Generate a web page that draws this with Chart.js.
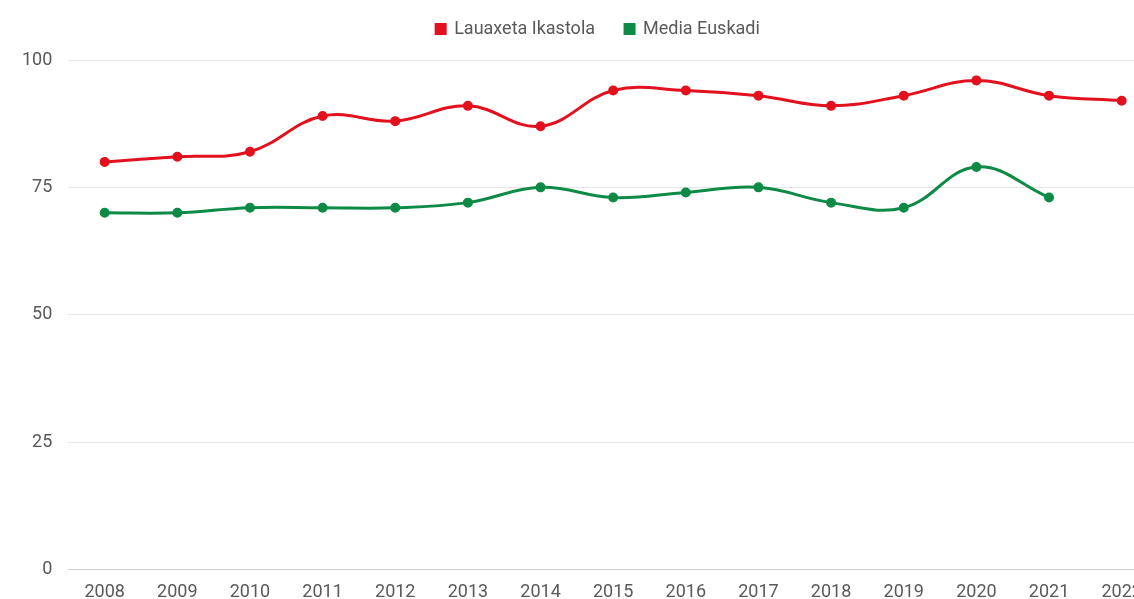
<!DOCTYPE html>
<html>
<head>
<meta charset="utf-8">
<script src="https://cdn.jsdelivr.net/npm/chart.js@4"></script>
<style>
  body { margin: 0; overflow: hidden; background: #fff; }
  #wrap { width: 1196px; height: 599px; }
</style>
</head>
<body>
<div id="wrap"><canvas id="rateChart" width="1196" height="599"></canvas></div>
<script>
// Years and yearly values for both series
const years = ['2008', '2009', '2010', '2011', '2012', '2013', '2014', '2015', '2016', '2017', '2018', '2019', '2020', '2021', '2022'];
const lauaxeta = [80, 81, 82, 89, 88, 91, 87, 94, 94, 93, 91, 93, 96, 93, 92];
const euskadi = [70, 70, 71, 71, 71, 72, 75, 73, 74, 75, 72, 71, 79, 73, null];
const yTicks = [0, 25, 50, 75, 100];

const RED = '#e3101e';
const GREEN = '#0d8a45';
const TEXT = '#595959';
const FONT = 'Roboto';

function series(label, data, color) {
    return {
        label: label,
        data: data,
        borderColor: color,
        backgroundColor: color,
        borderWidth: 3,
        pointRadius: 3.5,
        pointHoverRadius: 4,
        tension: 0.4,
        fill: false
    };
}

// Wide gaps between legend items, but keep the legend near the top
// and centred on the whole canvas
const legendSpacing = {
    id: 'legendSpacing',
    beforeLayout(chart) {
        const lg = chart.legend;
        if (lg && !lg._spaced) {
            const fit = lg.fit;
            lg.fit = function () {
                fit.call(this);
                this.height += 2;
            };
            lg._spaced = true;
        }
    },
    afterLayout(chart) {
        const lg = chart.legend;
        const shift = (chart.width - lg.left - lg.right) / 2;
        lg.left += shift;
        lg.right += shift;
        lg.top -= 10;
        lg.bottom -= 10;
    }
};

const ctx = document.getElementById('rateChart').getContext('2d');
new Chart(ctx, {
    type: 'line',
    data: {
        labels: years,
        datasets: [
            series('Lauaxeta Ikastola', lauaxeta, RED),
            series('Media Euskadi', euskadi, GREEN)
        ]
    },
    options: {
        responsive: false,
        animation: false,
        layout: { padding: { left: 6, right: 38, top: 0, bottom: -16 } },
        plugins: {
            legend: {
                position: 'top',
                labels: {
                    boxWidth: 9,
                    boxHeight: 9,
                    padding: 30,
                    color: TEXT,
                    font: { family: FONT, size: 18 }
                }
            },
            tooltip: { enabled: false }
        },
        scales: {
            x: {
                offset: true,
                grid: { display: false, drawTicks: false },
                border: { color: '#d0d0d0' },
                ticks: { color: TEXT, font: { family: FONT, size: 18 }, padding: 12, maxRotation: 0 }
            },
            y: {
                min: 0,
                max: 100,
                afterBuildTicks: axis => { axis.ticks = yTicks.map(v => ({ value: v })); },
                grid: { color: '#e6e6e6', drawTicks: false },
                border: { display: false },
                ticks: { color: TEXT, font: { family: FONT, size: 18 }, padding: 16 }
            }
        }
    },
    plugins: [legendSpacing]
});
</script>
</body>
</html>
